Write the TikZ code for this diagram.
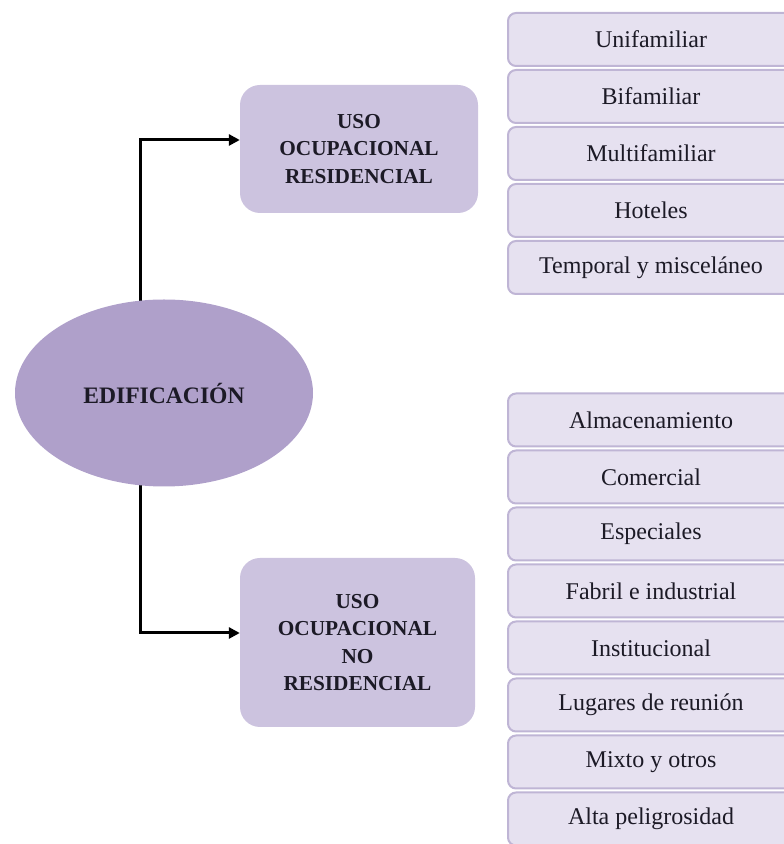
\documentclass[tikz,border=0pt]{standalone}
\usepackage{fontspec}
\setmainfont{Liberation Serif}
\usepackage{xcolor}
\usepackage{tikz}
\usetikzlibrary{positioning,arrows.meta,calc,shapes.geometric,backgrounds}
\definecolor{ellfill}{HTML}{AFA0CA}
\definecolor{usofill}{HTML}{CCC3DF}
\definecolor{itmfill}{HTML}{E6E1F0}
\definecolor{itmdraw}{HTML}{BFB5D5}
\definecolor{txt}{HTML}{1C1A26}
\tikzset{
  ell/.style={ellipse,fill=ellfill,minimum width=298pt,minimum height=187pt,inner sep=0pt,
    text=txt,font=\fontsize{23.6}{28}\selectfont\bfseries},
  uso/.style={fill=usofill,rounded corners=20pt,align=center,inner sep=0pt,text=txt,
    font=\fontsize{21.3}{27.5}\selectfont\bfseries},
  itm/.style={draw=itmdraw,line width=2pt,fill=itmfill,rounded corners=8pt,align=center,
    minimum width=286pt,minimum height=53pt,inner sep=0pt,text=txt,font=\fontsize{24}{28}\selectfont},
  arr/.style={-{Triangle[length=11pt,width=11pt]},line width=3pt},
}
\begin{document}
\begin{tikzpicture}[x=1pt,y=1pt]
  \useasboundingbox (0,0) rectangle (784,844);
  \node[ell] (edif) at (164,451) {EDIFICACIÓN};
  \node[uso,minimum width=238pt,minimum height=128pt] (res) at (359,695)
       {USO\\OCUPACIONAL\\RESIDENCIAL};
  \node[uso,minimum width=235pt,minimum height=169pt] (nores) at (357.5,201.5)
       {USO\\OCUPACIONAL\\NO\\RESIDENCIAL};
  % residential list
  \foreach \t [count=\i] in {Unifamiliar,Bifamiliar,Multifamiliar,Hoteles,Temporal y misceláneo}
    \node[itm] (r\i) at (651,861.5-57*\i) {\t};
  % non residential list
  \foreach \t [count=\i] in {Almacenamiento,Comercial,Especiales,Fabril e industrial,
      Institucional,Lugares de reunión,Mixto y otros,Alta peligrosidad}
    \node[itm] (n\i) at (651,481-57*\i) {\t};
  \begin{scope}[on background layer]
    \draw[arr] ([xshift=-24pt]edif.center) |- ([yshift=9pt]res.west);
    \draw[arr] ([xshift=-24pt]edif.center) |- ([yshift=9.5pt]nores.west);
  \end{scope}
\end{tikzpicture}
\end{document}
